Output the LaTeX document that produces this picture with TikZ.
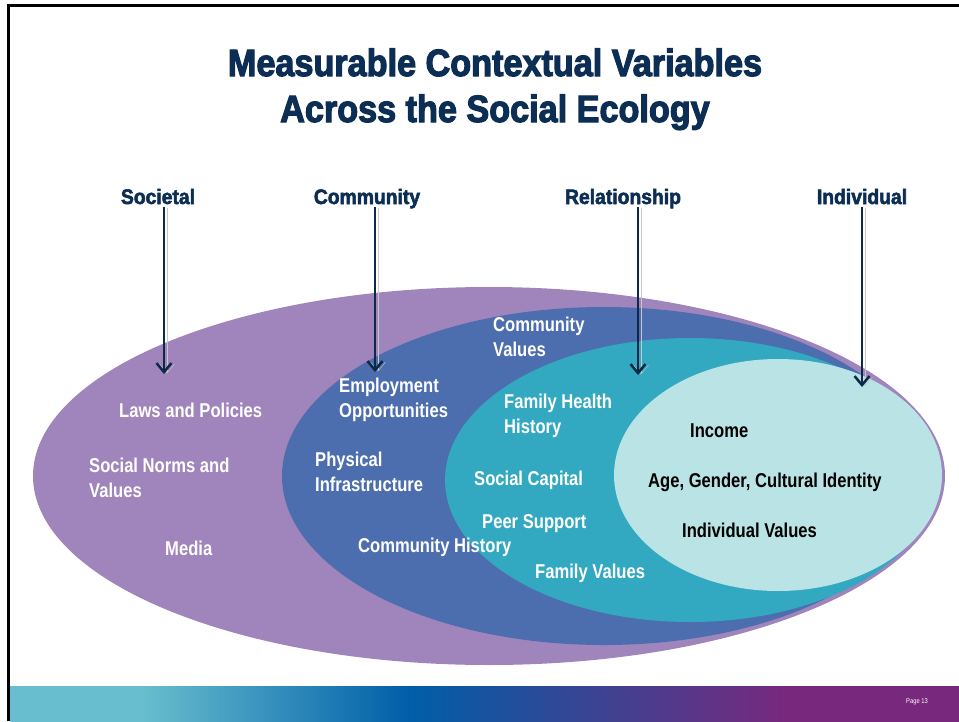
\documentclass[tikz,border=0pt]{standalone}
\usepackage{fontspec}
\setmainfont{Liberation Sans}
\newfontfamily\titlefont[FakeStretch=0.9,FakeBold=3]{Liberation Sans}
\newfontfamily\headfont[FakeStretch=0.92,FakeBold=2.5]{Liberation Sans}
\newfontfamily\labelfont[FakeStretch=0.83]{Liberation Sans}
\usetikzlibrary{arrows.meta}

\definecolor{ecopurple}{RGB}{160,132,188}
\definecolor{ecoblue}{RGB}{76,110,174}
\definecolor{ecoteal}{RGB}{50,168,193}
\definecolor{ecocyan}{RGB}{185,227,228}
\definecolor{titlenavy}{RGB}{12,45,84}
\definecolor{arrownavy}{RGB}{14,40,72}
\definecolor{barcyan}{RGB}{104,190,206}
\definecolor{barblue}{RGB}{0,94,168}
\definecolor{barpurple}{RGB}{120,40,125}

\pgfdeclarehorizontalshading{barshade}{100bp}{color(0bp)=(barcyan); color(32bp)=(barcyan);
  color(46bp)=(barblue); color(66bp)=(barpurple); color(100bp)=(barpurple)}

\begin{document}
\begin{tikzpicture}[x=1pt,y=-1pt,
    level/.style={font=\headfont\bfseries\fontsize{21}{25}\selectfont, text=titlenavy,
      inner sep=0, text depth=0.3em, anchor=base},
    lbl/.style={font=\labelfont\bfseries\fontsize{20}{25}\selectfont, text=white,
      inner sep=0, anchor=west, align=left},
    dark/.style={lbl, text=black},
    levelarrow/.style={draw=arrownavy, line width=2.5, -{Straight Barb[length=9pt,width=15pt,line width=2.5pt]},
      preaction={draw=black!22, transform canvas={xshift=3pt,yshift=-1pt}}}]
    \useasboundingbox (0,0) rectangle (959,721);

    % frame and footer bar
    \draw[line width=3] (8,721) -- (8,5) -- (959,5);
    \shade[shading=barshade] (10,686) rectangle (959,721);
    \node[text=white, inner sep=0, font=\labelfont\fontsize{7}{8}\selectfont] (page) at (917,702) {Page 13};

    % title
    \node[font=\titlefont\bfseries\fontsize{38}{46}\selectfont, text=titlenavy, align=center, inner sep=0, anchor=base]
      (title) at (495,122) {Measurable Contextual Variables\\Across the Social Ecology};

    % nested levels
    \fill[ecopurple] (489,476) ellipse [x radius=456, y radius=189];
    \fill[ecoblue] (604,476) ellipse [x radius=322, y radius=169];
    \fill[ecoteal] (690,480) ellipse [x radius=245, y radius=142];
    \fill[ecocyan] (778,475) ellipse [x radius=164, y radius=116];

    % level headings
    \node[level] (societal) at (158,204) {Societal};
    \node[level] (community) at (367,204) {Community};
    \node[level] (relationship) at (623,204) {Relationship};
    \node[level] (individual) at (862,204) {Individual};

    \coordinate (societaltip) at (164,374);
    \coordinate (communitytip) at (375,372);
    \coordinate (relationshiptip) at (638,375);
    \coordinate (individualtip) at (862,387);

    \draw[levelarrow] (societaltip |- societal.south) -- (societaltip);
    \draw[levelarrow] (communitytip |- community.south) -- (communitytip);
    \draw[levelarrow] (relationshiptip |- relationship.south) -- (relationshiptip);
    \draw[levelarrow] (individualtip |- individual.south) -- (individualtip);

    % societal
    \node[lbl] (laws) at (119,410) {Laws and Policies};
    \node[lbl] (norms) at (89,478) {Social Norms and\\Values};
    \node[lbl] (media) at (165,548) {Media};

    % community
    \node[lbl] (employment) at (339,400) {Employment\\Opportunities};
    \node[lbl] (physical) at (315,472) {Physical\\Infrastructure};
    \node[lbl] (commhistory) at (358,547) {Community History};
    \node[lbl] (commvalues) at (493,337) {Community\\Values};

    % relationship
    \node[lbl] (familyhealth) at (504,416) {Family Health\\History};
    \node[lbl] (capital) at (474,480) {Social Capital};
    \node[lbl] (peer) at (482,524) {Peer Support};
    \node[lbl] (familyvalues) at (535,573) {Family Values};

    % individual
    \node[dark] (income) at (690,431) {Income};
    \node[dark] (identity) at (648,482) {Age, Gender, Cultural Identity};
    \node[dark] (indvalues) at (682,530) {Individual Values};
\end{tikzpicture}
\end{document}
